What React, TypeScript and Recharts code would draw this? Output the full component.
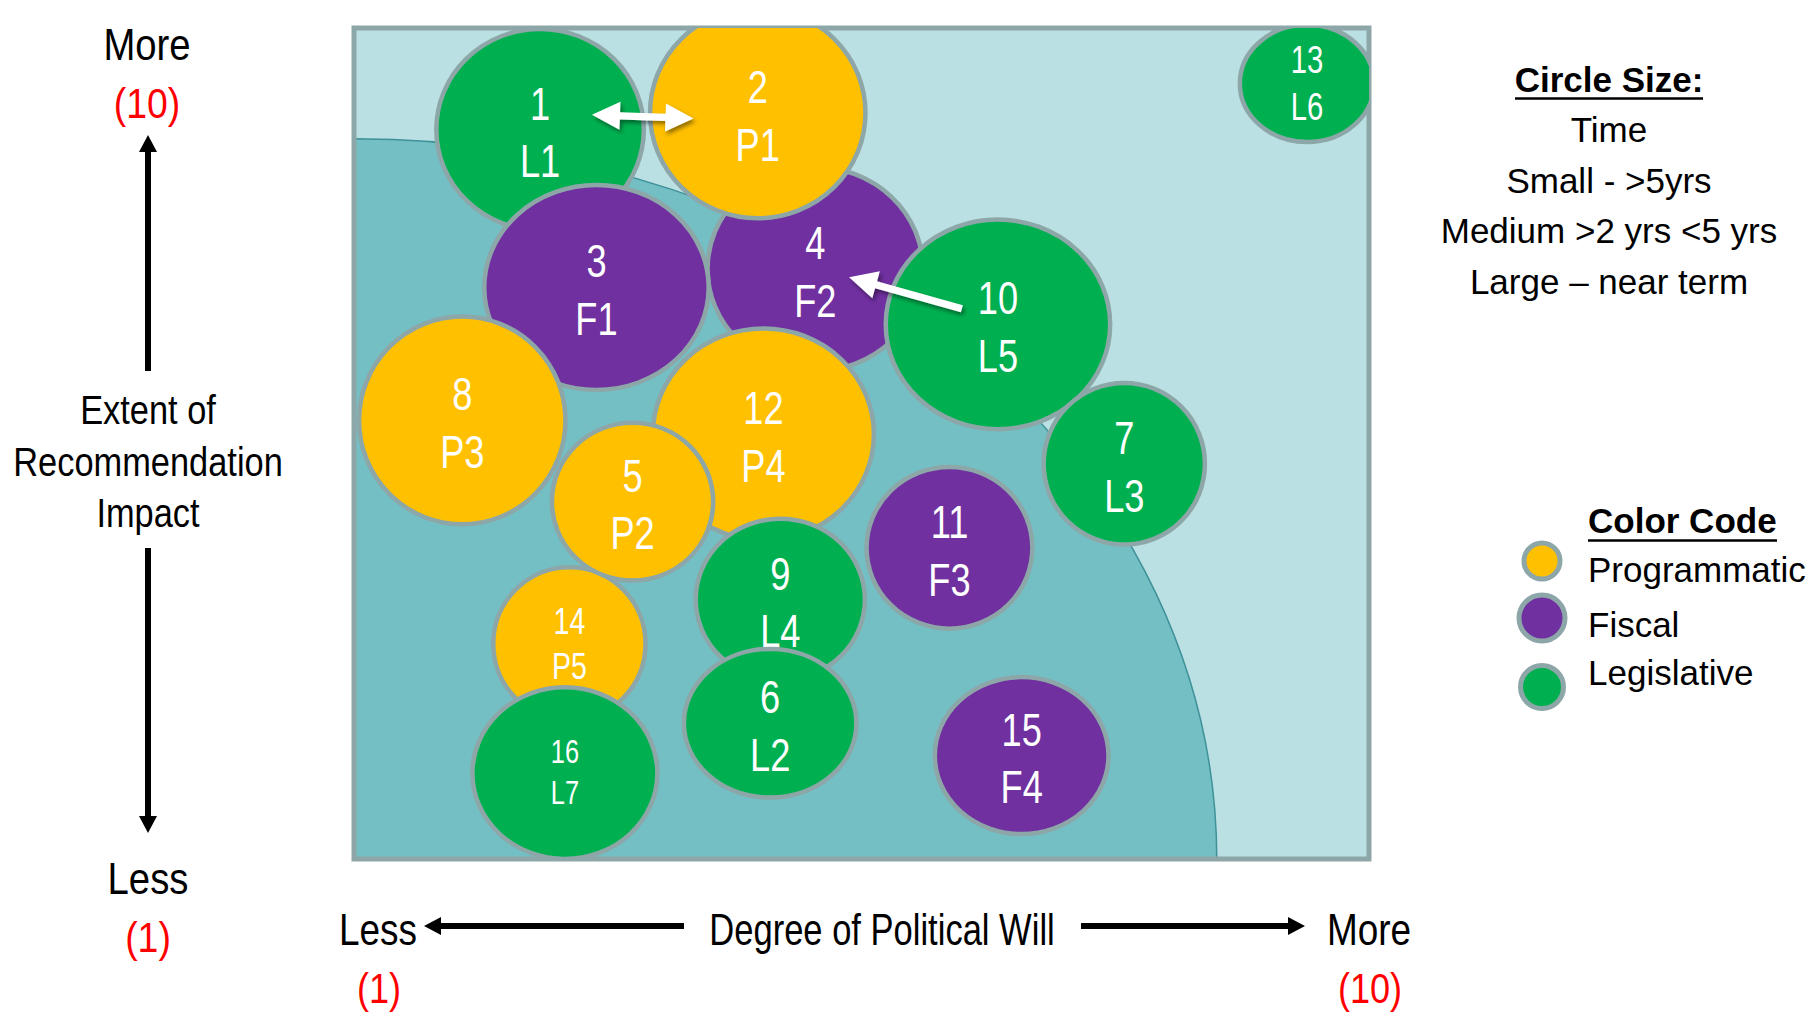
import React from 'react'
import { ScatterChart, Scatter, XAxis, YAxis, ReferenceArea, ReferenceLine } from 'recharts'

// recommendations, listed in drawing order (later ones sit on top)
const recNumbers = ['1', '4', '2', '3', '8', '12', '14', '5', '9', '6', '16', '10', '7', '11', '15', '13']
const recCodes = ['L1', 'F2', 'P1', 'F1', 'P3', 'P4', 'P5', 'P2', 'L4', 'L2', 'L7', 'L5', 'L3', 'F3', 'F4', 'L6']
const recTypes = [
  'Legislative', 'Fiscal', 'Programmatic', 'Fiscal', 'Programmatic', 'Programmatic', 'Programmatic', 'Programmatic',
  'Legislative', 'Legislative', 'Legislative', 'Legislative', 'Legislative', 'Fiscal', 'Fiscal', 'Legislative',
]
// degree of political will (x, 1-10)
const politicalWill = [2.65, 5.09, 4.58, 3.15, 1.96, 4.63, 2.91, 3.47, 4.78, 4.69, 2.87, 6.71, 7.83, 6.28, 6.92, 9.45]
// extent of recommendation impact (y, 1-10)
const impactScore = [8.9, 7.39, 9.08, 7.19, 5.75, 5.6, 3.33, 4.87, 3.81, 2.47, 1.93, 6.79, 5.28, 4.37, 2.12, 9.4]
// bubble extent along each axis, in axis units (circle size = time)
const spanWill = [1.84, 1.91, 1.91, 1.99, 1.83, 1.96, 1.35, 1.43, 1.5, 1.53, 1.64, 1.99, 1.43, 1.47, 1.54, 1.19]
const spanImpact = [2.18, 2.21, 2.28, 2.22, 2.25, 2.29, 1.66, 1.71, 1.75, 1.61, 1.86, 2.27, 1.75, 1.75, 1.7, 1.27]

// where the darker inner zone meets the bottom and left edges
const zoneWill = 8.65
const zoneImpact = 8.8

// arrows between recommendations
const arrowFrom = [{ x: 3.11, y: 9.06 }, { x: 6.39, y: 6.96 }]
const arrowTo = [{ x: 4.01, y: 9.02 }, { x: 5.39, y: 7.3 }]
const arrowBoth = [true, false]

const legendTypes = ['Programmatic', 'Fiscal', 'Legislative']
const circleSizeLines = ['Time', 'Small - >5yrs', 'Medium >2 yrs <5 yrs', 'Large \u2013 near term']

const COLORS: Record<string, string> = {
  Programmatic: '#FFC000',
  Fiscal: '#7030A0',
  Legislative: '#00B050',
}
const RING = '#8DA6A8'
const SANS = "'Liberation Sans', Arial, sans-serif"

const WIDTH = 1812
const HEIGHT = 1014
const MARGIN = { top: 28, right: 443, bottom: 155, left: 354 }
const PLOT_W = WIDTH - MARGIN.left - MARGIN.right
const PLOT_H = HEIGHT - MARGIN.top - MARGIN.bottom
const PX_WILL = PLOT_W / 9
const PX_IMPACT = PLOT_H / 9

const smallLabels: Record<string, number> = { '13': 38, '14': 37, '16': 33 }

const bubbles = recNumbers.map((num, i) => ({
  num,
  code: recCodes[i],
  type: recTypes[i],
  will: politicalWill[i],
  impact: impactScore[i],
  spanWill: spanWill[i],
  spanImpact: spanImpact[i],
}))

// condensed text: Arial metrics squeezed horizontally
function NText({ x, y, size, sx, fill = '#000', anchor = 'middle', children }: any) {
  return (
    <text
      transform={`translate(${x},${y}) scale(${sx},1)`}
      fontSize={size}
      fontFamily={SANS}
      textAnchor={anchor}
      fill={fill}
    >
      {children}
    </text>
  )
}

function renderBubble(props: any) {
  const { cx, cy, payload } = props
  const rx = (payload.spanWill / 2) * PX_WILL
  const ry = (payload.spanImpact / 2) * PX_IMPACT
  const fs = smallLabels[payload.num] ?? 47
  const base = cy - 10
  return (
    <g>
      <ellipse cx={cx} cy={cy} rx={rx} ry={ry} fill={COLORS[payload.type]} stroke={RING} strokeWidth={4.5} />
      <NText x={cx} y={base} size={fs} sx={0.77} fill="#fff">{payload.num}</NText>
      <NText x={cx} y={base + fs * 1.23} size={fs} sx={0.77} fill="#fff">{payload.code}</NText>
    </g>
  )
}

function renderZone(props: any) {
  const { x, y, width, height } = props
  return (
    <path
      d={`M${x},${y + height} L${x},${y} A${width},${height} 0 0 1 ${x + width},${y + height} Z`}
      fill="#74BFC4"
      stroke="#3E9199"
      strokeWidth={1.5}
    />
  )
}

function makeArrow(both: boolean, id: string) {
  return (props: any) => {
    const { x1, y1, x2, y2 } = props
    const len = Math.hypot(x2 - x1, y2 - y1)
    const ux = (x2 - x1) / len
    const uy = (y2 - y1) / len
    const nx = -uy
    const ny = ux
    const head = 28
    const half = 14
    const shaft = 3.6
    const p = (a: number, b: number) => `${x1 + ux * a + nx * b},${y1 + uy * a + ny * b}`
    const end = len - head
    const pts = both
      ? [p(0, 0), p(head, half), p(head, shaft), p(end, shaft), p(end, half), p(len, 0), p(end, -half), p(end, -shaft), p(head, -shaft), p(head, -half)]
      : [p(0, shaft), p(end, shaft), p(end, half), p(len, 0), p(end, -half), p(end, -shaft), p(0, -shaft)]
    return (
      <g>
        <defs>
          <filter id={id} x="-30%" y="-60%" width="160%" height="220%">
            <feDropShadow dx={2} dy={3} stdDeviation={2} floodColor="#000" floodOpacity={0.45} />
          </filter>
        </defs>
        <polygon points={pts.join(' ')} fill="#fff" filter={`url(#${id})`} />
      </g>
    )
  }
}

function BlackArrow({ x1, y1, x2, y2 }: { x1: number; y1: number; x2: number; y2: number }) {
  const len = Math.hypot(x2 - x1, y2 - y1)
  const ux = (x2 - x1) / len
  const uy = (y2 - y1) / len
  const nx = -uy
  const ny = ux
  const head = 17
  const half = 9
  const shaft = 3
  const p = (a: number, b: number) => `${x1 + ux * a + nx * b},${y1 + uy * a + ny * b}`
  const end = len - head
  const pts = [p(0, shaft), p(end, shaft), p(end, half), p(len, 0), p(end, -half), p(end, -shaft), p(0, -shaft)]
  return <polygon points={pts.join(' ')} fill="#000" />
}

function Annotations() {
  return (
    <svg width={WIDTH} height={HEIGHT} style={{ position: 'absolute', left: 0, top: 0, pointerEvents: 'none' }}>
      {/* vertical axis */}
      <NText x={147} y={60} size={44} sx={0.87}>More</NText>
      <NText x={147} y={118} size={43} sx={0.87} fill="#FF0000">(10)</NText>
      <BlackArrow x1={148} y1={371} x2={148} y2={135} />
      <NText x={148} y={424} size={40} sx={0.86}>Extent of</NText>
      <NText x={148} y={476} size={40} sx={0.86}>Recommendation</NText>
      <NText x={148} y={527} size={40} sx={0.86}>Impact</NText>
      <BlackArrow x1={148} y1={548} x2={148} y2={833} />
      <NText x={148} y={894} size={44} sx={0.87}>Less</NText>
      <NText x={148} y={952} size={43} sx={0.87} fill="#FF0000">(1)</NText>

      {/* horizontal axis */}
      <NText x={378} y={945} size={44} sx={0.84}>Less</NText>
      <NText x={379} y={1003} size={43} sx={0.84} fill="#FF0000">(1)</NText>
      <BlackArrow x1={684} y1={926} x2={424} y2={926} />
      <NText x={882} y={945} size={44} sx={0.785}>Degree of Political Will</NText>
      <BlackArrow x1={1081} y1={926} x2={1305} y2={926} />
      <NText x={1369} y={945} size={44} sx={0.84}>More</NText>
      <NText x={1370} y={1003} size={43} sx={0.84} fill="#FF0000">(10)</NText>

      {/* circle size key */}
      <text x={1609} y={92} fontSize={35} fontWeight="bold" fontFamily={SANS} textAnchor="middle">Circle Size:</text>
      <line x1={1515} x2={1703} y1={98.5} y2={98.5} stroke="#000" strokeWidth={2.5} />
      {circleSizeLines.map((line, i) => (
        <text key={line} x={1609} y={142 + i * 50.5} fontSize={35} fontFamily={SANS} textAnchor="middle">
          {line}
        </text>
      ))}

      {/* color code key */}
      <text x={1588} y={533} fontSize={35} fontWeight="bold" fontFamily={SANS}>Color Code</text>
      <line x1={1588} x2={1777} y1={540.5} y2={540.5} stroke="#000" strokeWidth={2.5} />
      {legendTypes.map((type, i) => (
        <g key={type}>
          <circle cx={1542} cy={[561, 618, 687][i]} r={[18, 23, 21.5][i]} fill={COLORS[type]} stroke={RING} strokeWidth={5} />
          <text x={1588} y={[582, 637, 685][i]} fontSize={35} fontFamily={SANS}>{type}</text>
        </g>
      ))}
    </svg>
  )
}

export default function App() {
  return (
    <div style={{ position: 'absolute', left: 0, top: 0, width: WIDTH, height: HEIGHT, background: '#fff' }}>
      <ScatterChart width={WIDTH} height={HEIGHT} margin={MARGIN}>
        <XAxis type="number" dataKey="will" domain={[1, 10]} hide allowDataOverflow />
        <YAxis type="number" dataKey="impact" domain={[1, 10]} hide allowDataOverflow />
        <ReferenceArea x1={1} x2={10} y1={1} y2={10} fill="#BBE0E3" fillOpacity={1} stroke="none" ifOverflow="visible" />
        <ReferenceArea x1={1} x2={zoneWill} y1={1} y2={zoneImpact} shape={renderZone} ifOverflow="visible" />
        <ReferenceArea x1={1} x2={10} y1={1} y2={10} fill="none" fillOpacity={0} stroke={RING} strokeWidth={5} ifOverflow="visible" />
        <Scatter data={bubbles} shape={renderBubble} isAnimationActive={false} />
        {arrowFrom.map((from, i) => (
          <ReferenceLine
            key={i}
            segment={[from, arrowTo[i]]}
            shape={makeArrow(arrowBoth[i], `arrow-shadow-${i}`)}
            ifOverflow="visible"
            zIndex={1000}
          />
        ))}
      </ScatterChart>
      <Annotations />
    </div>
  )
}
